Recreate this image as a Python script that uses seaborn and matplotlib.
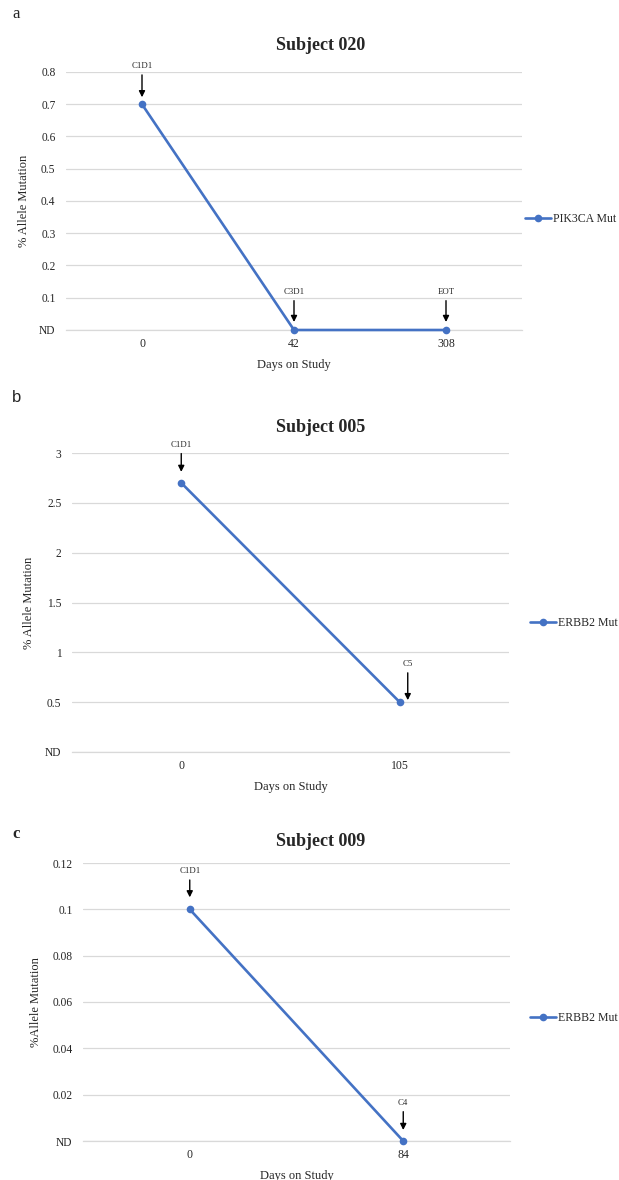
import numpy as np
import pandas as pd
import matplotlib.pyplot as plt
import matplotlib.transforms as mtransforms
import seaborn as sns

sns.set_style("white")
plt.rcParams['font.family'] = ['Liberation Serif', 'DejaVu Serif']

BLUE = '#4472C4'
GRID = '#D9D9D9'

# Subject 020
days_a = ['0', '42', '308']
pct_a = [0.7, 0.0, 0.0]
series_a = 'PIK3CA Mut'
ticks_a = [0, 0.1, 0.2, 0.3, 0.4, 0.5, 0.6, 0.7, 0.8]
marks_a = ['C1D1', 'C3D1', 'EOT']

# Subject 005
days_b = ['0', '105']
pct_b = [2.7, 0.5]
series_b = 'ERBB2 Mut'
ticks_b = [0, 0.5, 1, 1.5, 2, 2.5, 3]
marks_b = ['C1D1', 'C5']

# Subject 009
days_c = ['0', '84']
pct_c = [0.1, 0.0]
series_c = 'ERBB2 Mut'
ticks_c = [0, 0.02, 0.04, 0.06, 0.08, 0.1, 0.12]
marks_c = ['C1D1', 'C4']

W, H = 619, 1180
fig = plt.figure(figsize=(W / 100, H / 100), dpi=100)


def px_rect(x0, y0, x1, y1):
    # pixel box (top-left origin) -> figure fraction
    return [x0 / W, 1 - y1 / H, (x1 - x0) / W, (y1 - y0) / H]


def panel(rect, days, pct, series, ticks, ylabel, ylabel_x, title, title_y,
          marks, mark_dx, mark_tip, legend_xy, letter, letter_y, letter_kw):
    ax = fig.add_axes(rect)
    df = pd.DataFrame({'day': days, 'pct': pct, 'series': series})
    sns.pointplot(data=df, x='day', y='pct', hue='series', order=days,
                  palette=[BLUE], markers='o', errorbar=None, ax=ax,
                  markersize=5.5, linewidth=1.9, markeredgewidth=0)
    for ln in ax.lines:
        ln.set_clip_on(False)
        ln.set_zorder(5)
    for c in ax.collections:
        c.set_clip_on(False)
        c.set_zorder(5)

    ax.set_xlim(-0.5, len(days) - 0.5)
    ax.set_ylim(0, ticks[-1])
    ax.set_yticks(ticks)
    ax.set_yticklabels(['ND'] + [f'{t:g}' for t in ticks[1:]])
    ax.get_yticklabels()[0].set_fontsize(7.5)
    ax.grid(axis='y', color=GRID, lw=0.9)
    ax.grid(axis='x', visible=False)
    ax.set_axisbelow(True)
    for s in ['top', 'left', 'right']:
        ax.spines[s].set_visible(False)
    ax.spines['bottom'].set_color(GRID)
    ax.spines['bottom'].set_linewidth(0.9)
    ax.spines['bottom'].set_zorder(1)
    ax.tick_params(axis='y', length=0, pad=7.5, labelsize=8.3)
    ax.tick_params(axis='x', length=0, pad=6, labelsize=8.5)

    ax.set_xlabel('Days on Study', fontsize=9, labelpad=6)
    ax.set_ylabel(ylabel, fontsize=9)
    ax.yaxis.set_label_coords(ylabel_x, 0.5)

    fig.text(321 / W, 1 - title_y / H, title, fontsize=13, fontweight='bold',
             ha='center', va='center')
    fig.text(12 / W, 1 - letter_y / H, letter, fontsize=12, va='center',
             ha='left', **letter_kw)

    for i, (lab, dx, tip) in enumerate(zip(marks, mark_dx, mark_tip)):
        tr = mtransforms.offset_copy(ax.transData, fig=fig, x=dx, y=tip,
                                     units='dots')
        ax.annotate(lab, xy=(i, pct[i]), xycoords=tr,
                    xytext=(0, 38 - tip), textcoords='offset pixels',
                    ha='center', va='center', fontsize=6.3,
                    arrowprops=dict(arrowstyle='-|>', color='black', lw=1,
                                    shrinkA=1, shrinkB=0, mutation_scale=9))

    leg = ax.get_legend()
    handles = leg.legend_handles
    labels = [t.get_text() for t in leg.get_texts()]
    leg.remove()
    ax.legend(handles, labels, loc='center left',
              bbox_to_anchor=(legend_xy[0] / W, 1 - legend_xy[1] / H),
              bbox_transform=fig.transFigure, frameon=False, fontsize=8.5,
              handlelength=2.2, handletextpad=0.15, borderpad=0,
              borderaxespad=0)
    return ax


panel(px_rect(66, 72, 522, 330), days_a, pct_a, series_a, ticks_a,
      '% Allele Mutation', -0.079, 'Subject 020', 46,
      marks_a, [0, 0, 0], [7, 8, 8], (525, 219), 'a', 14, {})

panel(px_rect(72, 453, 509, 752), days_b, pct_b, series_b, ticks_b,
      '% Allele Mutation', -0.085, 'Subject 005', 427,
      marks_b, [0, 8], [11, 2], (530, 623), 'b', 398,
      {'family': ['Liberation Sans', 'DejaVu Sans']})

panel(px_rect(83, 863, 510, 1141), days_c, pct_c, series_c, ticks_c,
      '%Allele Mutation', -0.096, 'Subject 009', 842,
      marks_c, [0, 0], [12, 11], (530, 1018), 'c', 834, {'fontweight': 'bold'})

fig.savefig('out.png', dpi=100)
